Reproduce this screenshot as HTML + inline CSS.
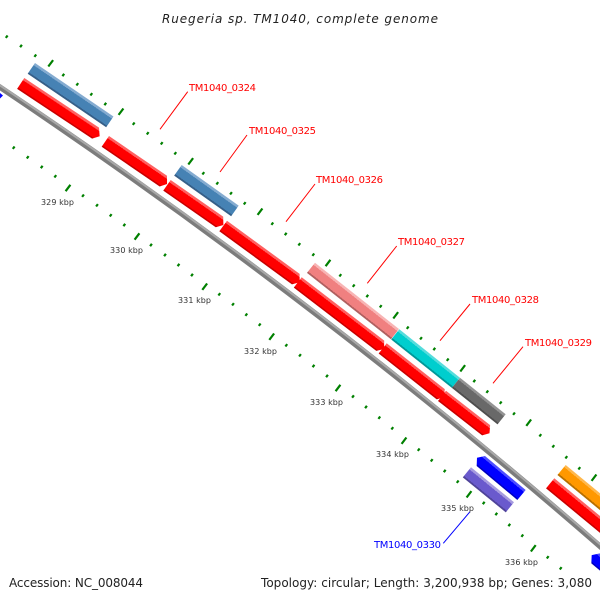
<!DOCTYPE html>
<html><head><meta charset="utf-8"><style>
html,body{margin:0;padding:0;background:#fff}
svg{display:block}
text{font-family:"DejaVu Sans","Liberation Sans",sans-serif}
</style></head><body>
<svg width="600" height="600" viewBox="0 0 600 600" xmlns="http://www.w3.org/2000/svg">
<defs>
<linearGradient id="red" x1="0" y1="0" x2="0" y2="1"><stop offset="0" stop-color="#ff6060"/><stop offset=".2" stop-color="#ff6060"/><stop offset=".2" stop-color="#f00"/><stop offset=".88" stop-color="#f00"/><stop offset=".88" stop-color="#c80000"/><stop offset="1" stop-color="#c80000"/></linearGradient>
<linearGradient id="steel" x1="0" y1="0" x2="0" y2="1"><stop offset="0" stop-color="#84abd0"/><stop offset=".2" stop-color="#84abd0"/><stop offset=".2" stop-color="#4682b4"/><stop offset=".86" stop-color="#4682b4"/><stop offset=".86" stop-color="#365f88"/><stop offset="1" stop-color="#365f88"/></linearGradient>
<linearGradient id="pink" x1="0" y1="0" x2="0" y2="1"><stop offset="0" stop-color="#f8b4b4"/><stop offset=".2" stop-color="#f8b4b4"/><stop offset=".2" stop-color="#f08080"/><stop offset=".86" stop-color="#f08080"/><stop offset=".86" stop-color="#b06060"/><stop offset="1" stop-color="#b06060"/></linearGradient>
<linearGradient id="cyan" x1="0" y1="0" x2="0" y2="1"><stop offset="0" stop-color="#55dcdc"/><stop offset=".2" stop-color="#55dcdc"/><stop offset=".2" stop-color="#00cece"/><stop offset=".86" stop-color="#00cece"/><stop offset=".86" stop-color="#009898"/><stop offset="1" stop-color="#009898"/></linearGradient>
<linearGradient id="gray" x1="0" y1="0" x2="0" y2="1"><stop offset="0" stop-color="#939393"/><stop offset=".2" stop-color="#939393"/><stop offset=".2" stop-color="#696969"/><stop offset=".86" stop-color="#696969"/><stop offset=".86" stop-color="#4e4e4e"/><stop offset="1" stop-color="#4e4e4e"/></linearGradient>
<linearGradient id="orange" x1="0" y1="0" x2="0" y2="1"><stop offset="0" stop-color="#ffb84d"/><stop offset=".2" stop-color="#ffb84d"/><stop offset=".2" stop-color="#ff9800"/><stop offset=".86" stop-color="#ff9800"/><stop offset=".86" stop-color="#b87000"/><stop offset="1" stop-color="#b87000"/></linearGradient>
<linearGradient id="blue" x1="0" y1="0" x2="0" y2="1"><stop offset="0" stop-color="#4d4dff"/><stop offset=".2" stop-color="#4d4dff"/><stop offset=".2" stop-color="#00f"/><stop offset=".88" stop-color="#00f"/><stop offset=".88" stop-color="#0000c0"/><stop offset="1" stop-color="#0000c0"/></linearGradient>
<linearGradient id="purple" x1="0" y1="0" x2="0" y2="1"><stop offset="0" stop-color="#a69bdf"/><stop offset=".2" stop-color="#a69bdf"/><stop offset=".2" stop-color="#6a5acd"/><stop offset=".86" stop-color="#6a5acd"/><stop offset=".86" stop-color="#4f4399"/><stop offset="1" stop-color="#4f4399"/></linearGradient>
</defs>
<rect width="600" height="600" fill="#fff"/>

<!-- backbone -->
<path d="M-10 80.5A6000 6000 0 0 1 610 555" fill="none" stroke="#7c7c7c" stroke-width="5.6"/>
<path d="M-10 80.5A6000 6000 0 0 1 610 555" fill="none" stroke="#a8a8a8" stroke-width="2" transform="translate(.9,-1.2)"/>

<!-- ticks -->
<g fill="none" stroke="#008000" stroke-width="2.2">
<path transform="translate(-.9,1.2)" d="M6.7 36.7l1.8-2.4M21 46l1.8-2.4M35.3 55.7l1.8-2.4M63.3 75l1.8-2.4M77.3 84.3l1.8-2.4M91.3 94.3l1.8-2.4M105.3 104l1.8-2.4M133.7 123.7l1.8-2.4M147.7 133.3l1.8-2.4M161.7 143.3l1.8-2.4M175.3 153.3l1.8-2.4M203.3 173.3l1.8-2.4M217.3 183.3l1.8-2.4M231 193.3l1.8-2.4M244.7 203.3l1.8-2.4M272.3 223.7l1.8-2.4M285.7 234l1.8-2.4M299.3 244.3l1.8-2.4M313.3 254.7l1.8-2.4M340.3 275.3l1.8-2.4M353.7 285.7l1.8-2.4M367.3 296l1.8-2.4M380.7 306.3l1.8-2.4M407.7 327.7l1.8-2.4M421 338.3l1.8-2.4M434.3 349l1.8-2.4M447.7 359.7l1.8-2.4M474.3 381l1.8-2.4M487.3 391.7l1.8-2.4M500.7 402.7l1.8-2.4M514 413.7l1.8-2.4M540.3 435.3l1.8-2.4M553.3 446.3l1.8-2.4M566.3 457.3l1.8-2.4M579.3 468.3l1.8-2.4
M13.7 147.7l1.8-2.4M27.7 157.3l1.8-2.4M41.7 167l1.8-2.4M55.3 176.3l1.8-2.4M83 195.7l1.8-2.4M97 205.3l1.8-2.4M110.7 215.3l1.8-2.4M124.3 225l1.8-2.4M151 245l1.8-2.4M165 255l1.8-2.4M178.5 265l1.8-2.4M192 275l1.8-2.4M219.3 294.3l1.8-2.4M233 304.3l1.8-2.4M246.3 314.7l1.8-2.4M259.7 324.7l1.8-2.4M286.3 345.3l1.8-2.4M300 355.3l1.8-2.4M313.5 366l1.8-2.4M327 376l1.8-2.4M353 396.5l1.8-2.4M366 407l1.8-2.4M379.3 417.7l1.8-2.4M392.3 428.3l1.8-2.4M418.7 449.7l1.8-2.4M431.7 460.3l1.8-2.4M444.7 471l1.8-2.4M457.7 481.7l1.8-2.4M483.7 503l1.8-2.4M496.3 514l1.8-2.4M509.3 525l1.8-2.4M522.3 535.7l1.8-2.4M547.7 557.3l1.8-2.4M560.7 568.3l1.8-2.4"/>
<path transform="translate(-2.4,3.2)" d="M50.7 63.3l4.8-6.4M121 111.7l4.8-6.4M190.7 161.3l4.8-6.4M260 211.7l4.8-6.4M328 263l4.8-6.4M395.7 315.3l4.8-6.4M462.7 368.3l4.8-6.4M528.7 422.7l4.8-6.4M594 477.7l4.8-6.4
M68 188l4.8-6.4M137 236.5l4.8-6.4M204.7 286.7l4.8-6.4M271.7 336.7l4.8-6.4M338 388l4.8-6.4M404 440.7l4.8-6.4M469 494.3l4.8-6.4M533.3 548.3l4.8-6.4"/>
</g>

<!-- small blue fragment at left -->
<polygon points="0,93 3,95.5 0,98.5" fill="#00f"/>

<!-- red genes -->
<g fill="url(#red)">
<polygon transform="translate(24.3,78) rotate(33.6)" points="0,0 89.7,0 95,6.8 90,13 0,13"/>
<polygon transform="translate(109,136) rotate(34.4)" points="0,0 70.3,0 75,6.8 70.3,13 0,13"/>
<polygon transform="translate(170.7,180) rotate(34.9)" points="0,0 64,0 69,6.8 64,13 0,13"/>
<polygon transform="translate(227,220.7) rotate(36.2)" points="0,0 90,0 95,6.8 90,13 0,13"/>
<polygon transform="translate(301.7,277.3) rotate(37.5)" points="0,0 104,0 109,6.8 104,13 0,13"/>
<polygon transform="translate(386.7,343.3) rotate(38.3)" points="0,0 74,0 78.5,6.8 74,13 0,13"/>
<polygon transform="translate(446,390.7) rotate(38)" points="0,0 56,0 60.5,6.8 56,13 0,13"/>
<polygon transform="translate(554.3,478.3) rotate(39.5)" points="0,0 90,0 90,13 0,13"/>
</g>

<!-- upper track -->
<polygon fill="url(#steel)" transform="translate(35,63) rotate(34.3)" points="0,0 95,0 95,13 0,13"/>
<polygon fill="url(#steel)" transform="translate(181.7,165) rotate(35.5)" points="0,0 70,0 70,13 0,13"/>
<polygon fill="url(#pink)" transform="translate(315,262.7) rotate(38.3)" points="0,0 107,0 107,13 0,13"/>
<polygon fill="url(#cyan)" transform="translate(399.3,329.3) rotate(38.6)" points="0,0 77.6,0 77.6,13 0,13"/>
<polygon fill="url(#gray)" transform="translate(460,377.7) rotate(38.7)" points="0,0 58.5,0 58.5,13 0,13"/>
<polygon fill="url(#orange)" transform="translate(565.7,465) rotate(39.5)" points="0,0 80,0 80,13 0,13"/>

<!-- reverse strand -->
<polygon fill="url(#blue)" transform="translate(485,456) rotate(39.9)" points="0,0 53,0 53,13 0,13 -5,6.5"/>
<polygon fill="url(#purple)" transform="translate(471,467.3) rotate(39.1)" points="0,0 55.4,0 55.4,13 0,13"/>
<polygon fill="url(#blue)" transform="translate(599.7,553.4) rotate(40)" points="0,0 60,0 60,13 0,13 -5,6.5"/>

<!-- leaders -->
<g stroke="#f00" stroke-width="1" fill="none">
<path d="M187.7 91.7L160 129.3"/>
<path d="M247 135L220 172"/>
<path d="M315 184L286 221.7"/>
<path d="M396.7 246L367.3 283.3"/>
<path d="M470 304L440 340.7"/>
<path d="M523 346.7L493 383.3"/>
</g>
<path d="M470 511.7L443.3 543.3" stroke="#00f" stroke-width="1" fill="none"/>

<!-- gene labels -->
<g font-size="10" fill="#f00">
<text x="189" y="91" textLength="67">TM1040_0324</text>
<text x="249" y="134" textLength="67">TM1040_0325</text>
<text x="316" y="183" textLength="67">TM1040_0326</text>
<text x="398" y="245" textLength="67">TM1040_0327</text>
<text x="472" y="303" textLength="67">TM1040_0328</text>
<text x="525" y="346" textLength="67">TM1040_0329</text>
</g>
<text x="374" y="548" font-size="10" fill="#00f" textLength="67">TM1040_0330</text>

<!-- kbp labels -->
<g font-size="8" fill="#333">
<text x="41" y="205" textLength="33">329 kbp</text>
<text x="110" y="253" textLength="33">330 kbp</text>
<text x="178" y="303" textLength="33">331 kbp</text>
<text x="244" y="354" textLength="33">332 kbp</text>
<text x="310" y="405" textLength="33">333 kbp</text>
<text x="376" y="457" textLength="33">334 kbp</text>
<text x="441" y="511" textLength="33">335 kbp</text>
<text x="505" y="565" textLength="33">336 kbp</text>
</g>

<!-- title and footer -->
<text x="162" y="23" font-size="12" font-style="italic" fill="#222" textLength="276">Ruegeria sp. TM1040, complete genome</text>
<text x="9" y="587" font-size="12" fill="#222" textLength="134">Accession: NC_008044</text>
<text x="261" y="587" font-size="12" fill="#222" textLength="331">Topology: circular; Length: 3,200,938 bp; Genes: 3,080</text>
</svg>
</body></html>
